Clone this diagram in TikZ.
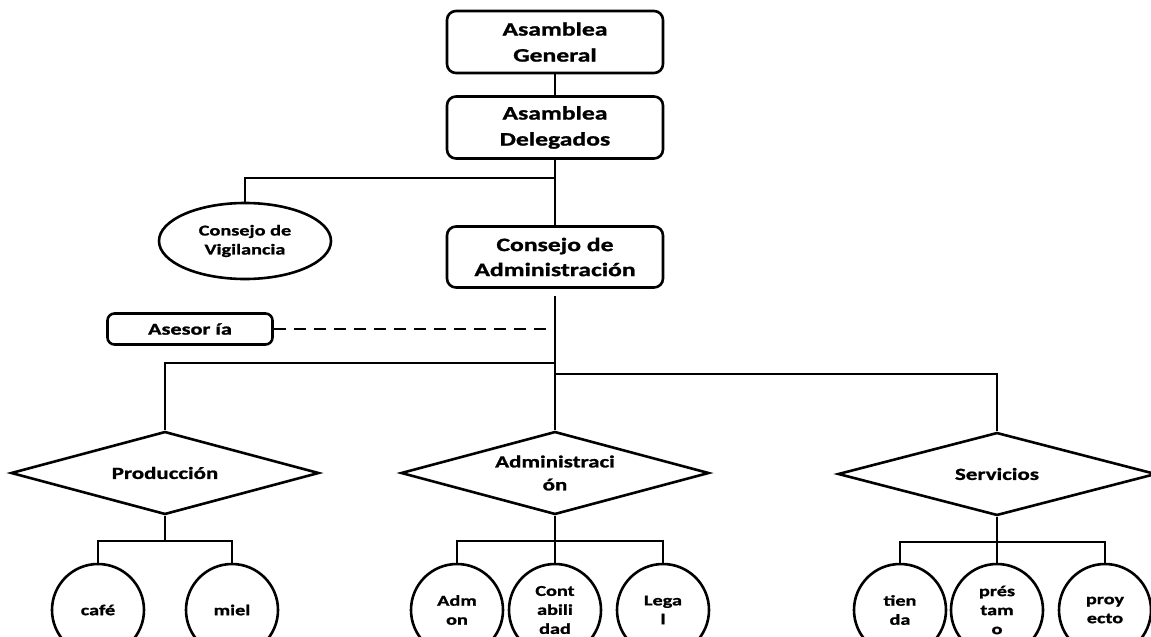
\documentclass[tikz,border=0pt]{standalone}
\usepackage{fontspec}
\newfontfamily\orgfont{Carlito}[FakeStretch=1.35, BoldFeatures={FakeBold=1.2}]
\usetikzlibrary{shapes.geometric}

\tikzset{
  linea/.style={line width=2.6pt, black},
  caja/.style={draw, linea, rounded corners=9pt, minimum width=216pt,
    minimum height=62pt, inner sep=0pt, align=center,
    font=\orgfont\bfseries\fontsize{19}{26}\selectfont},
  ovalo/.style={draw, linea, ellipse, minimum width=172pt, minimum height=76pt,
    inner sep=0pt, align=center, font=\orgfont\bfseries\fontsize{15}{19}\selectfont},
  rombo/.style={draw, linea, diamond, aspect=3.7, minimum width=308pt,
    minimum height=83pt, inner sep=0pt, align=center,
    font=\orgfont\bfseries\fontsize{17}{23}\selectfont},
  hoja/.style={draw, linea, ellipse, minimum width=92pt, minimum height=92pt,
    inner sep=0pt, align=center, font=\orgfont\bfseries\fontsize{15}{19}\selectfont},
}

\begin{document}
\begin{tikzpicture}[x=1pt, y=-1pt, linea]
    \clip (0,0) rectangle (1151,637);
    % Asambleas y consejos
    \node[caja] (ag) at (555,42) {Asamblea\\General};
    \node[caja] (ad) at (555,127.5) {Asamblea\\Delegados};
    \node[caja, minimum height=61pt,
      font=\orgfont\bfseries\fontsize{19}{25}\selectfont] (ca) at (555,257) {Consejo de\\Administración};
    \node[ovalo] (cv) at (245,241) {Consejo de\\Vigilancia};
    \node[caja, minimum width=165pt, minimum height=31pt, rounded corners=7pt,
      font=\orgfont\bfseries\fontsize{16.5}{20}\selectfont] (ase) at (190,329) {Asesor ía};
    % Puntos de union
    \coordinate (j1) at (555,178);
    \coordinate (j2) at (555,329);
    \coordinate (j3) at (555,363);
    \coordinate (j4) at (555,374);
    % Areas
    \node[rombo] (prod) at (165,473) {Producción};
    \node[rombo] (adm) at (555,473) {Administraci\\ón};
    \node[rombo, minimum width=318pt] (serv) at (997,474) {Servicios};
    % Unidades
    \node[hoja] (cafe) at (98,610) {café};
    \node[hoja] (miel) at (232,610) {miel};
    \node[hoja] (admon) at (457,610) {Adm\\on};
    \node[hoja] (cont) at (555,610) {Cont\\abili\\dad};
    \node[hoja] (legal) at (663,610) {Lega\\l};
    \node[hoja] (tienda) at (900,610) {tien\\da};
    \node[hoja] (prest) at (997,610) {prés\\tam\\o};
    \node[hoja] (proy) at (1105,610) {proy\\ecto};
    % Conectores
    \draw (ag) -- (ad);
    \draw (ad) -- (ca);
    \draw (j1) -| (cv);
    \draw[shorten <=7pt] (ca) -- (j4);
    \draw[dash pattern=on 12pt off 8pt] (ase) -- (j2);
    \draw (j3) -| (prod);
    \draw (j4) -- (adm);
    \draw (j4) -| (serv);
    \draw (prod.south) -- ++(0,25) -| (cafe);
    \draw (prod.south) ++(0,25) -| (miel);
    \draw (adm.south) -- ++(0,25) -| (admon);
    \draw (adm) -- (cont);
    \draw (adm.south) ++(0,25) -| (legal);
    \draw (serv.south) -- ++(0,25) -| (tienda);
    \draw (serv) -- (prest);
    \draw (serv.south) ++(0,25) -| (proy);
\end{tikzpicture}
\end{document}
